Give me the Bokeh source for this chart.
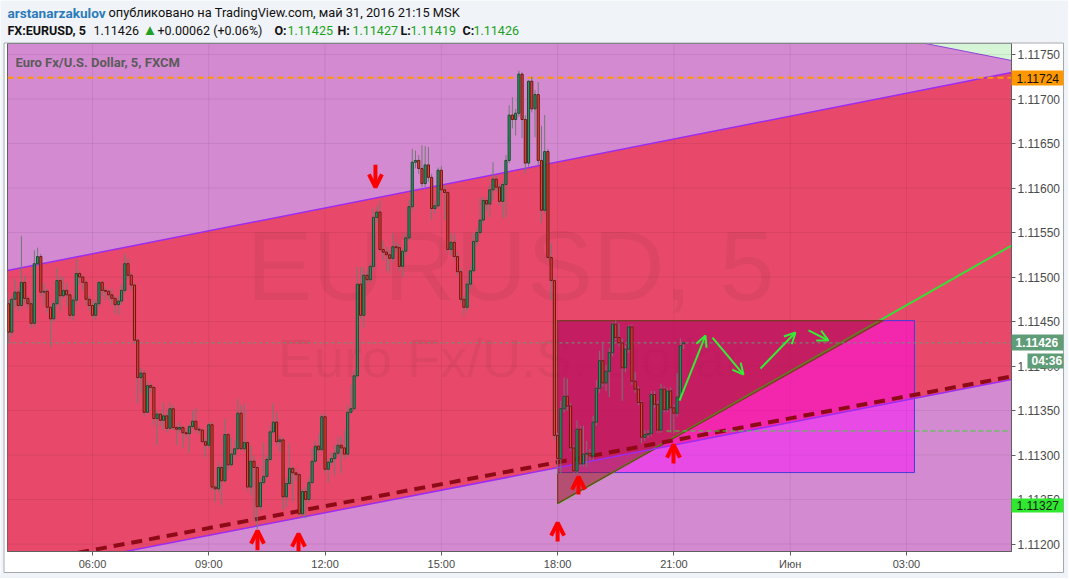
import pandas as pd
from bokeh.plotting import figure
from bokeh.models import (Range1d, FixedTicker, PrintfTickFormatter,
                          Arrow, OpenHead, ColumnDataSource)
from bokeh.core.properties import value
from bokeh.embed import file_html
from bokeh.resources import INLINE

# ---------------- data (EURUSD 5 min) ----------------
opens = [1.11470, 1.11438, 1.11475, 1.11483, 1.11468, 1.11494, 1.11476, 1.11470, 1.11448, 1.11515,
         1.11523, 1.11483, 1.11484, 1.11466, 1.11453, 1.11470, 1.11496, 1.11479, 1.11485, 1.11480,
         1.11457, 1.11474, 1.11504, 1.11500, 1.11494, 1.11475, 1.11468, 1.11457, 1.11470, 1.11494,
         1.11485, 1.11484, 1.11480, 1.11476, 1.11469, 1.11473, 1.11485, 1.11515, 1.11502, 1.11491,
         1.11429, 1.11387, 1.11392, 1.11348, 1.11378, 1.11376, 1.11341, 1.11346, 1.11339, 1.11344,
         1.11330, 1.11352, 1.11331, 1.11329, 1.11331, 1.11325, 1.11324, 1.11332, 1.11338, 1.11329,
         1.11328, 1.11315, 1.11311, 1.11334, 1.11264, 1.11262, 1.11286, 1.11271, 1.11323, 1.11289,
         1.11301, 1.11307, 1.11347, 1.11307, 1.11314, 1.11264, 1.11293, 1.11286, 1.11242, 1.11269,
         1.11276, 1.11295, 1.11326, 1.11337, 1.11315, 1.11317, 1.11253, 1.11268, 1.11285, 1.11280,
         1.11278, 1.11234, 1.11259, 1.11250, 1.11269, 1.11293, 1.11310, 1.11306, 1.11343, 1.11284,
         1.11292, 1.11296, 1.11302, 1.11311, 1.11308, 1.11301, 1.11348, 1.11352, 1.11389, 1.11492,
         1.11457, 1.11502, 1.11497, 1.11512, 1.11567, 1.11573, 1.11531, 1.11528, 1.11525, 1.11521,
         1.11534, 1.11533, 1.11512, 1.11529, 1.11544, 1.11579, 1.11629, 1.11631, 1.11622, 1.11605,
         1.11626, 1.11612, 1.11577, 1.11580, 1.11620, 1.11598, 1.11595, 1.11531, 1.11539, 1.11523,
         1.11506, 1.11475, 1.11466, 1.11492, 1.11507, 1.11540, 1.11550, 1.11564, 1.11586, 1.11582,
         1.11598, 1.11610, 1.11601, 1.11585, 1.11604, 1.11631, 1.11682, 1.11677, 1.11684, 1.11728,
         1.11677, 1.11628, 1.11720, 1.11689, 1.11705, 1.11631, 1.11575, 1.11641, 1.11522, 1.11496,
         1.11322, 1.11296, 1.11352, 1.11366, 1.11355, 1.11308, 1.11282, 1.11329, 1.11290, 1.11301,
         1.11302, 1.11299, 1.11337, 1.11375, 1.11406, 1.11381, 1.11394, 1.11415, 1.11447, 1.11432,
         1.11426, 1.11398, 1.11419, 1.11444, 1.11383, 1.11374, 1.11359, 1.11320, 1.11323, 1.11324,
         1.11368, 1.11357, 1.11328, 1.11374, 1.11351, 1.11372, 1.11353, 1.11347, 1.11365, 1.11425]

highs = [1.11474, 1.11479, 1.11498, 1.11487, 1.11546, 1.11502, 1.11479, 1.11474, 1.11530, 1.11533,
         1.11526, 1.11493, 1.11487, 1.11468, 1.11474, 1.11510, 1.11501, 1.11500, 1.11493, 1.11485,
         1.11478, 1.11520, 1.11507, 1.11502, 1.11496, 1.11479, 1.11474, 1.11474, 1.11495, 1.11496,
         1.11489, 1.11486, 1.11487, 1.11479, 1.11479, 1.11491, 1.11526, 1.11521, 1.11505, 1.11493,
         1.11431, 1.11398, 1.11395, 1.11384, 1.11381, 1.11378, 1.11350, 1.11348, 1.11359, 1.11348,
         1.11359, 1.11356, 1.11333, 1.11337, 1.11333, 1.11330, 1.11334, 1.11350, 1.11353, 1.11332,
         1.11330, 1.11319, 1.11337, 1.11337, 1.11267, 1.11292, 1.11288, 1.11341, 1.11325, 1.11320,
         1.11316, 1.11363, 1.11356, 1.11358, 1.11316, 1.11311, 1.11299, 1.11289, 1.11274, 1.11314,
         1.11299, 1.11333, 1.11358, 1.11348, 1.11322, 1.11320, 1.11274, 1.11313, 1.11288, 1.11285,
         1.11280, 1.11262, 1.11264, 1.11274, 1.11308, 1.11316, 1.11324, 1.11347, 1.11346, 1.11296,
         1.11303, 1.11311, 1.11320, 1.11321, 1.11328, 1.11356, 1.11379, 1.11395, 1.11511, 1.11511,
         1.11511, 1.11507, 1.11516, 1.11577, 1.11580, 1.11586, 1.11541, 1.11534, 1.11530, 1.11549,
         1.11539, 1.11537, 1.11532, 1.11549, 1.11586, 1.11644, 1.11642, 1.11637, 1.11648, 1.11647,
         1.11646, 1.11616, 1.11586, 1.11623, 1.11625, 1.11603, 1.11597, 1.11549, 1.11549, 1.11528,
         1.11510, 1.11479, 1.11496, 1.11513, 1.11549, 1.11555, 1.11589, 1.11590, 1.11589, 1.11603,
         1.11629, 1.11614, 1.11605, 1.11608, 1.11637, 1.11693, 1.11702, 1.11689, 1.11732, 1.11730,
         1.11682, 1.11721, 1.11725, 1.11710, 1.11719, 1.11670, 1.11682, 1.11644, 1.11538, 1.11498,
         1.11325, 1.11361, 1.11387, 1.11386, 1.11358, 1.11311, 1.11339, 1.11333, 1.11333, 1.11316,
         1.11307, 1.11344, 1.11384, 1.11417, 1.11425, 1.11401, 1.11420, 1.11449, 1.11451, 1.11448,
         1.11431, 1.11423, 1.11446, 1.11447, 1.11393, 1.11377, 1.11361, 1.11328, 1.11328, 1.11372,
         1.11372, 1.11361, 1.11380, 1.11377, 1.11375, 1.11376, 1.11357, 1.11392, 1.11431, 1.11427]

lows = [1.11426, 1.11434, 1.11466, 1.11462, 1.11465, 1.11471, 1.11465, 1.11443, 1.11444, 1.11512,
        1.11478, 1.11468, 1.11460, 1.11421, 1.11449, 1.11467, 1.11462, 1.11476, 1.11467, 1.11453,
        1.11451, 1.11469, 1.11491, 1.11485, 1.11468, 1.11462, 1.11453, 1.11452, 1.11466, 1.11479,
        1.11474, 1.11474, 1.11468, 1.11459, 1.11457, 1.11469, 1.11481, 1.11498, 1.11485, 1.11425,
        1.11358, 1.11369, 1.11343, 1.11347, 1.11370, 1.11333, 1.11311, 1.11333, 1.11328, 1.11325,
        1.11328, 1.11328, 1.11311, 1.11325, 1.11308, 1.11320, 1.11302, 1.11330, 1.11325, 1.11324,
        1.11313, 1.11297, 1.11308, 1.11260, 1.11247, 1.11258, 1.11243, 1.11269, 1.11283, 1.11287,
        1.11297, 1.11305, 1.11305, 1.11303, 1.11260, 1.11255, 1.11226, 1.11217, 1.11238, 1.11266,
        1.11274, 1.11292, 1.11324, 1.11311, 1.11303, 1.11238, 1.11241, 1.11265, 1.11247, 1.11271,
        1.11232, 1.11231, 1.11229, 1.11247, 1.11267, 1.11290, 1.11303, 1.11304, 1.11280, 1.11269,
        1.11288, 1.11277, 1.11298, 1.11279, 1.11296, 1.11298, 1.11346, 1.11350, 1.11386, 1.11453,
        1.11443, 1.11493, 1.11493, 1.11507, 1.11561, 1.11528, 1.11519, 1.11507, 1.11504, 1.11516,
        1.11528, 1.11507, 1.11500, 1.11524, 1.11541, 1.11575, 1.11622, 1.11616, 1.11601, 1.11601,
        1.11607, 1.11564, 1.11571, 1.11577, 1.11594, 1.11564, 1.11528, 1.11524, 1.11519, 1.11502,
        1.11471, 1.11457, 1.11462, 1.11487, 1.11504, 1.11535, 1.11547, 1.11560, 1.11575, 1.11567,
        1.11586, 1.11595, 1.11580, 1.11566, 1.11567, 1.11628, 1.11667, 1.11659, 1.11680, 1.11656,
        1.11616, 1.11624, 1.11685, 1.11657, 1.11626, 1.11561, 1.11571, 1.11519, 1.11474, 1.11316,
        1.11279, 1.11279, 1.11348, 1.11350, 1.11305, 1.11280, 1.11279, 1.11287, 1.11287, 1.11286,
        1.11294, 1.11294, 1.11333, 1.11370, 1.11377, 1.11372, 1.11365, 1.11411, 1.11429, 1.11422,
        1.11361, 1.11393, 1.11415, 1.11379, 1.11370, 1.11356, 1.11313, 1.11316, 1.11319, 1.11321,
        1.11353, 1.11325, 1.11325, 1.11348, 1.11348, 1.11325, 1.11324, 1.11343, 1.11361, 1.11419]

closes = [1.11438, 1.11475, 1.11483, 1.11468, 1.11494, 1.11476, 1.11470, 1.11448, 1.11515, 1.11523,
          1.11483, 1.11484, 1.11466, 1.11453, 1.11470, 1.11496, 1.11479, 1.11485, 1.11480, 1.11457,
          1.11474, 1.11504, 1.11500, 1.11494, 1.11475, 1.11468, 1.11457, 1.11470, 1.11494, 1.11485,
          1.11484, 1.11480, 1.11476, 1.11469, 1.11473, 1.11485, 1.11515, 1.11502, 1.11491, 1.11429,
          1.11387, 1.11392, 1.11348, 1.11378, 1.11376, 1.11341, 1.11346, 1.11339, 1.11344, 1.11330,
          1.11352, 1.11331, 1.11329, 1.11331, 1.11325, 1.11324, 1.11332, 1.11338, 1.11329, 1.11328,
          1.11315, 1.11311, 1.11334, 1.11264, 1.11262, 1.11286, 1.11271, 1.11323, 1.11289, 1.11301,
          1.11307, 1.11347, 1.11307, 1.11314, 1.11264, 1.11293, 1.11286, 1.11242, 1.11269, 1.11276,
          1.11295, 1.11326, 1.11337, 1.11315, 1.11317, 1.11253, 1.11268, 1.11285, 1.11280, 1.11278,
          1.11234, 1.11259, 1.11250, 1.11269, 1.11293, 1.11310, 1.11306, 1.11343, 1.11284, 1.11292,
          1.11296, 1.11302, 1.11311, 1.11308, 1.11301, 1.11348, 1.11352, 1.11389, 1.11492, 1.11457,
          1.11502, 1.11497, 1.11512, 1.11567, 1.11573, 1.11531, 1.11528, 1.11525, 1.11521, 1.11534,
          1.11533, 1.11512, 1.11529, 1.11544, 1.11579, 1.11629, 1.11631, 1.11622, 1.11605, 1.11626,
          1.11612, 1.11577, 1.11580, 1.11620, 1.11598, 1.11595, 1.11531, 1.11539, 1.11523, 1.11506,
          1.11475, 1.11466, 1.11492, 1.11507, 1.11540, 1.11550, 1.11564, 1.11586, 1.11582, 1.11598,
          1.11610, 1.11601, 1.11585, 1.11604, 1.11631, 1.11682, 1.11677, 1.11684, 1.11728, 1.11677,
          1.11628, 1.11720, 1.11689, 1.11705, 1.11631, 1.11575, 1.11641, 1.11522, 1.11496, 1.11322,
          1.11296, 1.11352, 1.11366, 1.11355, 1.11308, 1.11282, 1.11329, 1.11290, 1.11301, 1.11302,
          1.11299, 1.11337, 1.11375, 1.11406, 1.11381, 1.11394, 1.11415, 1.11447, 1.11432, 1.11426,
          1.11398, 1.11419, 1.11444, 1.11383, 1.11374, 1.11359, 1.11320, 1.11323, 1.11324, 1.11368,
          1.11357, 1.11328, 1.11374, 1.11351, 1.11372, 1.11353, 1.11347, 1.11365, 1.11423, 1.11426]

first_bar = "2016-05-31 03:50"

x_ticks = [6, 9, 12, 15, 18, 21, 24, 27]
x_labels = ["06:00", "09:00", "12:00", "15:00", "18:00", "21:00", "Июн", "03:00"]
y_ticks = [1.1120, 1.1125, 1.1130, 1.1135, 1.1140, 1.1145, 1.1150, 1.1155, 1.1160, 1.1165, 1.1170, 1.1175]

# drawings (hours since 31 May 00:00, price)
channel_top_t = [3.807, 29.71]
channel_top_p = [1.115073, 1.117298]
channel_bot_t = [3.807, 29.71]
channel_bot_p = [1.111659, 1.113848]
support_t = [3.807, 29.71]
support_p = [1.111752, 1.113882]
green_zone_t = [27.49, 29.71]
green_zone_p = [1.117624, 1.117433]
box_t = [18.0, 27.207]
box_p = [1.112803, 1.114511]
tri_t = [18.0, 18.0, 26.407]
tri_p = [1.114511, 1.112455, 1.114511]
trend_t = [18.0, 29.71]
trend_p = [1.112455, 1.115354]
level_orange = 1.11724
level_last = 1.11426
level_green = 1.11327
level_green_start = 20.81

red_up_t = [10.257, 11.315, 18.0, 18.539, 20.99]
red_up_tail = [1.111930, 1.111916, 1.112028, 1.112556, 1.112904]
red_up_head = [1.112150, 1.112117, 1.112240, 1.112757, 1.113117]
red_down_t = [13.30]
red_down_tail = [1.116262]
red_down_head = [1.116007]

g_start_t = [21.144, 21.996, 23.234, 24.473]
g_start_p = [1.113612, 1.114320, 1.113972, 1.114400]
g_end_t = [21.815, 22.796, 24.137, 24.989]
g_end_p = [1.114343, 1.113904, 1.114377, 1.114287]

header_line1 = ["arstanarzakulov", "опубликовано на TradingView.com, май 31, 2016 21:15 MSK"]
header_line2 = ["FX:EURUSD, 5", "1.11426", "▲", "+0.00062 (+0.06%)",
                "O:", "1.11425", "H:", "1.11427", "L:", "1.11419", "C:", "1.11426"]
legend_text = "Euro Fx/U.S. Dollar, 5, FXCM"
watermark = ["EURUSD, 5", "Euro Fx/U.S. Dollar"]
badges = ["1.11724", "1.11426", "04:36", "1.11327"]

# ---------------- figure geometry ----------------
X0, X1 = 3.807, 29.71
Y0, Y1 = 1.111916, 1.117624
FL, FT, FW, FH = 7, 43, 1004, 508          # frame left/top/width/height in page px


def dx(px):  # page pixel -> data x
    return X0 + (px - FL) * (X1 - X0) / FW


def dy(py):  # page pixel -> data y
    return Y1 - (py - FT) * (Y1 - Y0) / FH


times = pd.date_range(first_bar, periods=len(closes), freq="5min")
hours = ((times - pd.Timestamp("2016-05-31 00:00")) / pd.Timedelta(hours=1)).tolist()

UP_FILL, UP_LINE = "#2a9461", "#1b4a33"
DN_FILL, DN_LINE = "#df4436", "#6a1812"
up = [c >= o for o, c in zip(opens, closes)]
src = ColumnDataSource(dict(
    x=hours, h=highs, l=lows,
    top=[max(o, c) for o, c in zip(opens, closes)],
    bottom=[min(o, c) for o, c in zip(opens, closes)],
    fill=[UP_FILL if u else DN_FILL for u in up],
    line=[UP_LINE if u else DN_LINE for u in up],
))

p = figure(frame_width=FW, frame_height=FH,
           x_range=Range1d(X0, X1), y_range=Range1d(Y0, Y1),
           y_axis_location="right", output_backend="svg", toolbar_location=None,
           min_border_left=FL, min_border_right=57, min_border_top=FT, min_border_bottom=27,
           background_fill_color="#d48ad1", border_fill_color="white",
           outline_line_color="#5f5f5f")
p.xgrid.visible = False
p.ygrid.visible = False

# background zones
p.patch([green_zone_t[0], green_zone_t[1], green_zone_t[1]],
        [green_zone_p[0], green_zone_p[1], Y1], fill_color="#d6f5d6", line_color=None)
p.line(green_zone_t, green_zone_p, line_color="#8e44d8", line_width=1)
p.patch([channel_top_t[0], channel_top_t[1], channel_bot_t[1], channel_bot_t[0]],
        [channel_top_p[0], channel_top_p[1], channel_bot_p[1], channel_bot_p[0]],
        fill_color="#e8496a", line_color=None)

# grid
p.segment(x0=x_ticks, y0=[Y0] * len(x_ticks), x1=x_ticks, y1=[Y1] * len(x_ticks),
          line_color="black", line_alpha=0.07, line_width=1)
p.segment(x0=[X0] * len(y_ticks), y0=y_ticks, x1=[X1] * len(y_ticks), y1=y_ticks,
          line_color="black", line_alpha=0.07, line_width=1)

# watermark
p.text(x=[dx(510)], y=[dy(265)], text=[watermark[0]], text_font=value("Liberation Sans"),
       text_font_size=value("99px"), text_align="center", text_baseline="middle",
       text_color="black", text_alpha=0.05)
p.text(x=[dx(510)], y=[dy(357)], text=[watermark[1]], text_font=value("Liberation Sans"),
       text_font_size=value("54px"), text_align="center", text_baseline="middle",
       text_color="black", text_alpha=0.05)

# rectangle + triangle + trend line
p.quad(left=[box_t[0]], right=[box_t[1]], bottom=[box_p[0]], top=[box_p[1]],
       fill_color="#ff00ff", fill_alpha=0.46, line_color="#4b3bd6", line_width=1)
p.line(trend_t, trend_p, line_color="#36e036", line_width=2)
p.patch(tri_t, tri_p, fill_color="#961414", fill_alpha=0.5, line_color="#7a3a22", line_width=1.2)

# channel lines and levels
p.line(channel_top_t, channel_top_p, line_color="#9c2cf0", line_width=1.5)
p.line(channel_bot_t, channel_bot_p, line_color="#9c2cf0", line_width=1.5)
p.line(support_t, support_p, line_color="#8e0a16", line_width=4, line_dash="11 7")
p.line([X0, X1], [level_orange] * 2, line_color="#ff9800", line_width=2, line_dash="6 4")
p.line([X0, X1], [level_last] * 2, line_color="#5d9c78", line_width=1, line_dash="3 3")
p.line([level_green_start, X1], [level_green] * 2, line_color="#33dd33", line_width=1, line_dash="5 3")

# candles
p.segment(x0="x", y0="l", x1="x", y1="h", source=src, line_color="#6f7b73", line_width=1)
p.vbar(x="x", width=0.055, top="top", bottom="bottom", fill_color="fill", line_color="line",
       line_width=1, source=src)

# arrows
for t, a, b in zip(red_up_t + red_down_t, red_up_tail + red_down_tail, red_up_head + red_down_head):
    p.add_layout(Arrow(end=OpenHead(size=13, line_color="#ff0000", line_width=4),
                       x_start=t, y_start=a, x_end=t, y_end=b,
                       line_color="#ff0000", line_width=4))
for t0, p0, t1, p1 in zip(g_start_t, g_start_p, g_end_t, g_end_p):
    p.add_layout(Arrow(end=OpenHead(size=11, line_color="#33ee33", line_width=2),
                       x_start=t0, y_start=p0, x_end=t1, y_end=p1,
                       line_color="#33ee33", line_width=2))

# legend text in the top-left corner of the pane
p.text(x=[dx(15)], y=[dy(62)], text=[legend_text], text_font=value("Roboto"),
       text_font_size=value("13px"), text_font_style="bold", text_color="#5b5b5b",
       text_baseline="middle")

# axes
p.xaxis.ticker = FixedTicker(ticks=x_ticks)
p.xaxis.major_label_overrides = {t: l for t, l in zip(x_ticks, x_labels)}
p.yaxis.ticker = FixedTicker(ticks=y_ticks)
p.yaxis.formatter = PrintfTickFormatter(format="%.5f")
for ax in (p.xaxis[0], p.yaxis[0]):
    ax.axis_line_color = "#5f5f5f"
    ax.major_tick_line_color = "#5f5f5f"
    ax.major_tick_out = 4
    ax.major_tick_in = 0
    ax.minor_tick_out = 0
    ax.minor_tick_in = 0
    ax.major_label_text_font = "Liberation Sans"
    ax.major_label_text_color = "#4a4a4a"
p.xaxis.major_label_text_font_size = "11px"
p.yaxis.major_label_text_font_size = "12px"
p.xaxis.major_label_standoff = 2
p.yaxis.major_label_standoff = 2

# ---------------- overlay items outside the pane (header, price badges) ----------------
OV = dict(level="overlay")
# page background strips and outer panel frame
p.quad(left=[dx(0)], right=[dx(1070)], bottom=[dy(42)], top=[dy(0)],
       fill_color="#f0f3f7", line_color=None, **OV)
p.quad(left=[dx(0)], right=[dx(3)], bottom=[dy(580)], top=[dy(42)],
       fill_color="#f0f3f7", line_color=None, **OV)
p.quad(left=[dx(1063.5)], right=[dx(1070)], bottom=[dy(580)], top=[dy(42)],
       fill_color="#f0f3f7", line_color=None, **OV)
p.quad(left=[dx(0)], right=[dx(1070)], bottom=[dy(580)], top=[dy(572.5)],
       fill_color="#f0f3f7", line_color=None, **OV)
p.line([dx(3.5), dx(1063), dx(1063), dx(3.5), dx(3.5)],
       [dy(42.5), dy(42.5), dy(572), dy(572), dy(42.5)], line_color="#a3a8ae", line_width=1, **OV)

GREEN_TXT = "#21a121"
p.text(x=[dx(7)], y=[dy(12)], text=[header_line1[0]], text_font=value("Roboto"),
       text_font_size=value("13.6px"), text_font_style="bold", text_color="#2b7bbb",
       text_baseline="middle", **OV)
p.text(x=[dx(108)], y=[dy(12)], text=[header_line1[1]], text_font=value("Roboto"),
       text_font_size=value("12.8px"), text_color="#111111", text_baseline="middle", **OV)

h2_x = [7, 93, 142, 157, 274, 287, 337, 352, 400, 410, 462, 473]
h2_bold = [True, False, False, False, True, False, True, False, True, False, True, False]
h2_col = ["#111111", "#111111", GREEN_TXT, "#111111", "#111111", GREEN_TXT,
          "#111111", GREEN_TXT, "#111111", GREEN_TXT, "#111111", GREEN_TXT]
h2_size = ["12.5px"] * len(h2_x)
h2_size[2] = "15px"
h2 = ColumnDataSource(dict(x=[dx(v) for v in h2_x], y=[dy(29.5)] * len(h2_x), text=header_line2,
                           style=["bold" if b else "normal" for b in h2_bold], color=h2_col,
                           size=h2_size))
p.text(x="x", y="y", text="text", source=h2, text_font=value("Roboto"),
       text_font_size="size", text_font_style="style", text_color="color",
       text_baseline="middle", **OV)

# price badges on the right axis
badge_box = dict(left=[dx(1011), dx(1011), dx(1027), dx(1011)],
                 right=[dx(1063), dx(1063), dx(1063), dx(1063)],
                 top=[dy(70), dy(334), dy(353), dy(498)],
                 bottom=[dy(85), dy(350), dy(368), dy(512)],
                 color=["#ff9800", "#5f9d78", "#5f9d78", "#2fe82f"])
p.quad(left="left", right="right", top="top", bottom="bottom", fill_color="color",
       line_color=None, source=ColumnDataSource(badge_box), **OV)
badge_txt = dict(x=[dx(1016), dx(1015), dx(1031), dx(1016)],
                 y=[dy(77.5), dy(342), dy(360.5), dy(505)],
                 text=badges,
                 color=["#111111", "white", "white", "#1a1a1a"],
                 style=["normal", "bold", "bold", "normal"])
p.text(x="x", y="y", text="text", text_color="color", text_font_style="style",
       source=ColumnDataSource(badge_txt), text_font=value("Liberation Sans"),
       text_font_size=value("12px"), text_baseline="middle", **OV)

open("out.html", "w").write(file_html(p, INLINE))
